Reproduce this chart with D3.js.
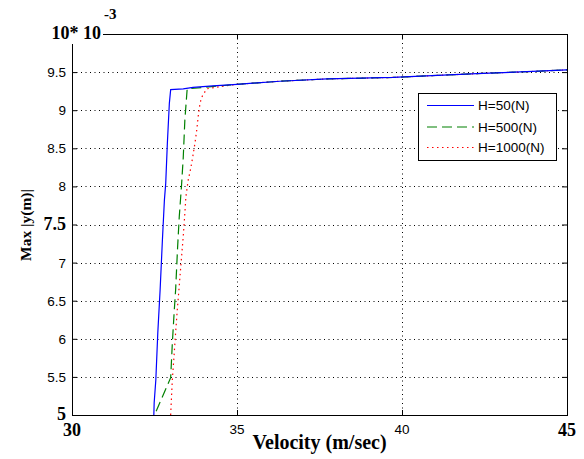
<!DOCTYPE html>
<html><head><meta charset="utf-8">
<script src="https://cdn.jsdelivr.net/npm/d3@7/dist/d3.min.js"></script>
<style>body{margin:0;background:#fff}svg{display:block}</style>
</head><body>
<svg id="c" width="584" height="459"></svg>
<script>
// ---- data ----
const seriesNames = ["H=50(N)", "H=500(N)", "H=1000(N)"];
const tailX = [35.0, 36.3, 37.73, 39.73, 42.26, 43.78, 45.0];
const tailY = [9.34, 9.38, 9.41, 9.43, 9.48, 9.505, 9.53];
const h50X = [32.48, 32.49, 32.54, 32.60, 32.67, 32.74, 32.80, 32.84, 32.89, 32.95, 32.99, 33.37, 33.67, 34.27];
const h50Y = [5.00, 5.16, 5.46, 6.08, 6.64, 7.30, 7.82, 8.04, 8.57, 9.09, 9.27, 9.28, 9.30, 9.32];
const h500X = [32.55, 32.99, 33.04, 33.10, 33.14, 33.20, 33.25, 33.32, 33.37, 33.42, 33.49, 34.0, 34.5];
const h500Y = [5.05, 5.49, 5.94, 6.38, 6.64, 7.20, 7.60, 8.02, 8.37, 8.87, 9.28, 9.30, 9.32];
const h1000X = [32.99, 33.04, 33.09, 33.14, 33.19, 33.24, 33.30, 33.37, 33.42, 33.45, 33.52, 33.60, 33.66, 33.73, 33.78, 33.83, 33.88, 33.93, 34.08, 34.5];
const h1000Y = [5.00, 5.46, 5.76, 6.08, 6.38, 6.64, 6.97, 7.34, 7.65, 7.86, 8.08, 8.24, 8.39, 8.58, 8.74, 8.94, 9.09, 9.17, 9.28, 9.31];
const xTicks = [30, 35, 40, 45];
const xTickLabels = ["30", "35", "40", "45"];
const yTicks = [5, 5.5, 6, 6.5, 7, 7.5, 8, 8.5, 9, 9.5, 10];
const yTickLabels = ["5", "5.5", "6", "6.5", "7", "7.5", "8", "8.5", "9", "9.5", "10* 10"];
const boldX = ["30", "45"];
const boldY = ["5", "7.5", "10* 10"];

// ---- layout ----
const L = 72, R = 567, T = 34, B = 415;
const svg = d3.select("#c");
const x = d3.scaleLinear().domain([30, 45]).range([L, R]);
const y = d3.scaleLinear().domain([5, 10]).range([B, T]);
const sans = "'Liberation Sans', Arial, sans-serif";
const serif = "'Liberation Serif', 'Times New Roman', serif";

// grid
const g = svg.append("g");
g.selectAll("line.gx").data(xTicks.slice(1, -1)).join("line")
  .attr("x1", d => x(d) + 0.5).attr("x2", d => x(d) + 0.5).attr("y1", T).attr("y2", B)
  .attr("stroke", "#000").attr("stroke-dasharray", "1,3.5").attr("stroke-width", 1);
g.selectAll("line.gy").data(yTicks.slice(1, -1)).join("line")
  .attr("y1", d => Math.round(y(d)) + 0.5).attr("y2", d => Math.round(y(d)) + 0.5).attr("x1", L).attr("x2", R)
  .attr("stroke", "#000").attr("stroke-dasharray", "1,3.5").attr("stroke-width", 1);

// data lines
const tail = tailX.map((v, i) => [v, tailY[i]]);
const mk = (xs, ys) => xs.map((v, i) => [v, ys[i]]).concat(tail);
const series = [
  {name: seriesNames[0], pts: mk(h50X, h50Y), color: "#0000ff", dash: null},
  {name: seriesNames[1], pts: mk(h500X, h500Y), color: "#008000", dash: "10,5"},
  {name: seriesNames[2], pts: mk(h1000X, h1000Y), color: "#ff0000", dash: "1.5,3.5"}
];
svg.append("clipPath").attr("id", "clp").append("rect").attr("x", L).attr("y", T).attr("width", R - L).attr("height", B - T);
const line = d3.line().x(d => x(d[0])).y(d => y(d[1]));
svg.append("g").attr("clip-path", "url(#clp)").selectAll("path").data(series.slice().reverse()).join("path")
  .attr("d", d => line(d.pts)).attr("fill", "none").attr("stroke", d => d.color)
  .attr("stroke-width", 1.2).attr("stroke-dasharray", d => d.dash);

// axes (inward ticks)
const tk = 5;
svg.append("g").attr("transform", `translate(0,${B})`)
  .call(d3.axisBottom(x).tickValues(xTicks).tickSize(-tk).tickFormat(""))
  .call(a => a.select(".domain").remove());
svg.append("g").attr("transform", `translate(0,${T})`)
  .call(d3.axisTop(x).tickValues(xTicks).tickSize(-tk).tickFormat(""))
  .call(a => a.select(".domain").remove());
svg.append("g").attr("transform", `translate(${L},0)`)
  .call(d3.axisLeft(y).tickValues(yTicks).tickSize(-tk).tickFormat(""))
  .call(a => a.select(".domain").remove());
svg.append("g").attr("transform", `translate(${R},0)`)
  .call(d3.axisRight(y).tickValues(yTicks).tickSize(-tk).tickFormat(""))
  .call(a => a.select(".domain").remove());
svg.selectAll(".tick line").attr("stroke", "#000");
svg.append("rect").attr("x", L + 0.5).attr("y", T + 0.5).attr("width", R - L).attr("height", B - T)
  .attr("fill", "none").attr("stroke", "#000").attr("stroke-width", 1);

// tick labels
svg.append("g").selectAll("text").data(xTicks).join("text")
  .attr("x", d => x(d)).attr("text-anchor", "middle")
  .attr("y", (d, i) => boldX.includes(xTickLabels[i]) ? 436 : 434)
  .attr("font-family", (d, i) => boldX.includes(xTickLabels[i]) ? serif : sans)
  .attr("font-weight", (d, i) => boldX.includes(xTickLabels[i]) ? "bold" : "normal")
  .attr("font-size", (d, i) => boldX.includes(xTickLabels[i]) ? 18 : 13.5)
  .text((d, i) => xTickLabels[i]);

// white box behind top-left label
svg.append("rect").attr("x", 40).attr("y", 14).attr("width", 63).attr("height", 30).attr("fill", "#fff");
svg.append("rect").attr("x", L - 2).attr("y", T - 2).attr("width", 31).attr("height", 12).attr("fill", "#fff");

svg.append("g").selectAll("text").data(yTicks).join("text")
  .attr("x", 66).attr("text-anchor", "end")
  .attr("y", d => y(d) + 5)
  .attr("font-family", (d, i) => boldY.includes(yTickLabels[i]) ? serif : sans)
  .attr("font-weight", (d, i) => boldY.includes(yTickLabels[i]) ? "bold" : "normal")
  .attr("font-size", (d, i) => boldY.includes(yTickLabels[i]) ? 18 : 13.5)
  .attr("dx", (d, i) => yTickLabels[i] === "10* 10" ? 35 : 0)
  .style("white-space", "pre")
  .text((d, i) => yTickLabels[i]);
svg.append("text").attr("x", 104).attr("y", 19).attr("font-family", serif).attr("font-weight", "bold")
  .attr("font-size", 15).text("-3");

// axis titles
svg.append("text").attr("x", x(37.5)).attr("y", 449).attr("text-anchor", "middle")
  .attr("font-family", serif).attr("font-weight", "bold").attr("font-size", 20).text("Velocity (m/sec)");
svg.append("text").attr("transform", `translate(31,225) rotate(-90)`).attr("text-anchor", "middle")
  .attr("font-family", serif).attr("font-weight", "bold").attr("font-size", 15.5).text("Max |y(m)|");

// legend
const lg = svg.append("g");
lg.append("rect").attr("x", 418.5).attr("y", 93.5).attr("width", 138).attr("height", 67)
  .attr("fill", "#fff").attr("stroke", "#000").attr("stroke-width", 1);
const ly = [105, 126.5, 147];
lg.selectAll("line").data(series).join("line")
  .attr("x1", 427).attr("x2", 474).attr("y1", (d, i) => ly[i] + 0.5).attr("y2", (d, i) => ly[i] + 0.5)
  .attr("stroke", d => d.color).attr("stroke-width", 1.2).attr("stroke-dasharray", d => d.dash);
lg.selectAll("text").data(series).join("text")
  .attr("x", 478).attr("y", (d, i) => ly[i] + 5)
  .attr("font-family", sans).attr("font-size", 13.5).text(d => d.name);
</script>
</body></html>
